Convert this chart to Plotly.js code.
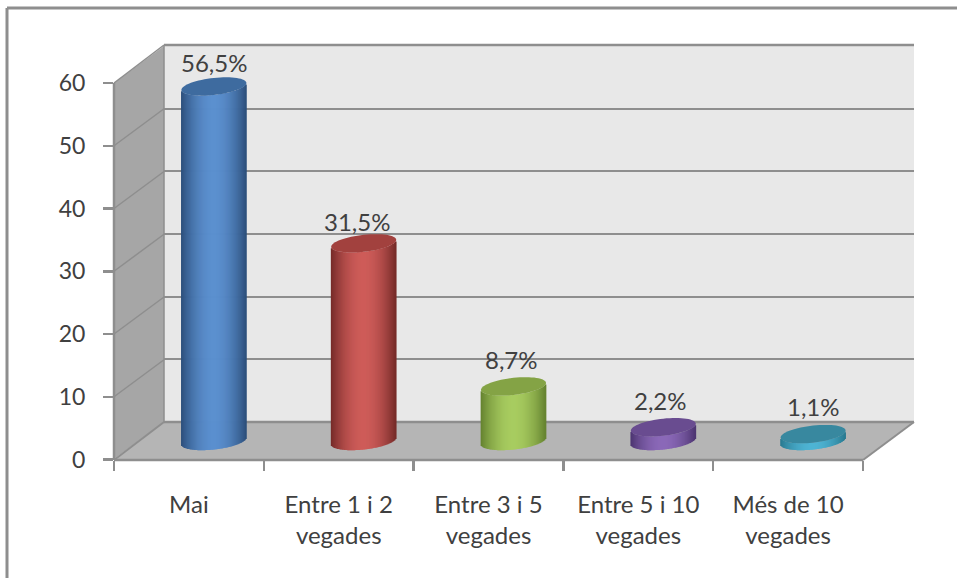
<!DOCTYPE html>
<html><head><meta charset="utf-8">
<script src="https://cdn.plot.ly/plotly-3.0.1.min.js"></script>
<style>html,body{margin:0;padding:0;background:#fff}</style></head>
<body><div id="c" style="width:957px;height:578px"></div>
<script>
const categories = ["Mai","Entre 1 i 2<br>vegades","Entre 3 i 5<br>vegades","Entre 5 i 10<br>vegades","Més de 10<br>vegades"];
const values = [56.5,31.5,8.7,2.2,1.1];
const valueLabels = ["56,5%","31,5%","8,7%","2,2%","1,1%"];
const edgeColors = ["#2a4d7a","#742a28","#64822f","#4c3470","#27788f"];
const midColors = ["#5a8fcf","#ce5c59","#a8cc60","#8b69b8","#4db4d4"];
const capColors = ["#3e6b9f","#a2413e","#84a345","#694c90","#38889f"];
const labelNudge = [[0,24],[-7,22],[-2,27],[-3,27],[0,28]];

const W=957,H=578;
const px=x=>x/W, py=y=>1-y/H;
const font="Lato, 'Open Sans', sans-serif", ink="#404040", edge="#8e8e8e";
const hex=c=>[1,3,5].map(i=>parseInt(c.substr(i,2),16));
const mix=(a,b,t)=>{const A=hex(a),B=hex(b);return "rgb("+A.map((v,i)=>Math.round(v+(B[i]-v)*t)).join(",")+")";};

// cylinder geometry, in units of the bar axes
const halfW=0.217, halfH=1.36, tilt=0.55, strips=65;
const bx=[],by=[],bb=[],bw=[],bc=[];
values.forEach((v,i)=>{
  for(let k=0;k<strips;k++){
    const u=-1+(k+0.5)*2/strips;
    bx.push(i+u*halfW); by.push(v);
    bb.push(tilt*u-halfH*Math.sqrt(1-u*u));
    bw.push(halfW*2/strips*1.7);
    bc.push(mix(edgeColors[i],midColors[i],1-Math.pow(Math.abs(u),1.9)));
  }
});
const ellipse=(i,v)=>{
  let d="";
  for(let k=0;k<=64;k++){
    const t=k/64*2*Math.PI, c=Math.cos(t), s=Math.sin(t);
    d+=(k?"L":"M")+(i+halfW*c).toFixed(4)+","+(v+tilt*c+halfH*s).toFixed(4);
  }
  return d+"Z";
};
const poly=(pts,fill)=>({type:"path",xref:"paper",yref:"paper",layer:"below",line:{width:0},fillcolor:fill,
  path:pts.map((p,i)=>(i?"L":"M")+px(p[0])+","+py(p[1])).join("")+"Z"});
const seg=(a,b,width,layer)=>({type:"line",xref:"paper",yref:"paper",layer:layer||"below",
  x0:px(a[0]),y0:py(a[1]),x1:px(b[0]),y1:py(b[1]),line:{color:edge,width:width||2}});

const shapes=[
  poly([[164,46],[914,46],[914,422],[164,422]],"#e8e8e8"),
  poly([[114,83],[164,46],[164,422],[114,459]],"#a6a6a6"),
  poly([[114,460],[164,422],[914,422],[863,460]],"#b5b5b5"),
  seg([7,8],[957,8],3), seg([7,8],[7,578],3),
  seg([164,45],[914,45],2.5), seg([164,45],[164,422],1.5),
  seg([164,422],[914,422],2.5), seg([914,422],[863,460],2),
  seg([114,460],[164,422],2), seg([114,83],[164,45],1.5),
  seg([114,83],[114,460],2.5), seg([114,460],[863,460],2.5)
];
[10,20,30,40,50].forEach(t=>{const y=459.5-t*6.275;shapes.push(seg([114,y],[164,y-37],1.5));});
values.forEach((v,i)=>shapes.push({type:"path",xref:"x3",yref:"y3",path:ellipse(i,v),fillcolor:capColors[i],line:{width:0}}));

const annotations=values.map((v,i)=>({xref:"x3",yref:"y3",x:i,y:v,text:valueLabels[i],showarrow:false,
  xshift:labelNudge[i][0],yshift:labelNudge[i][1],font:{family:font,size:24,color:ink}}));

const data=[
  {type:"scatter",mode:"none",x:[0,1],y:[0,60],xaxis:"x",yaxis:"y",hoverinfo:"skip",showlegend:false},
  {type:"scatter",mode:"none",x:categories,y:values.map(()=>null),xaxis:"x2",yaxis:"y2",hoverinfo:"skip",showlegend:false},
  {type:"bar",x:bx,y:by,base:bb,width:bw,marker:{color:bc,line:{width:0}},xaxis:"x3",yaxis:"y3",hoverinfo:"skip",showlegend:false,cliponaxis:false}
];
const layout={
  width:W,height:H,margin:{l:0,r:0,t:0,b:0},paper_bgcolor:"#fff",plot_bgcolor:"rgba(0,0,0,0)",
  showlegend:false,barmode:"overlay",shapes,annotations,
  xaxis:{domain:[px(164),px(914)],range:[0,1],anchor:"y",showgrid:false,zeroline:false,showticklabels:false,ticks:"",showline:false},
  yaxis:{domain:[py(422),py(46)],range:[0,60],anchor:"x",dtick:10,showgrid:true,gridcolor:edge,gridwidth:2,zeroline:false,showticklabels:false,ticks:"",showline:false},
  xaxis2:{domain:[px(114),px(863)],type:"category",categoryorder:"array",categoryarray:categories,anchor:"y2",tickson:"boundaries",
    range:[-0.5,4.5],ticks:"outside",ticklen:10,tickwidth:2.5,tickcolor:edge,showgrid:false,zeroline:false,showline:false,
    tickangle:0,ticklabelstandoff:28,tickfont:{family:font,size:24,color:ink}},
  yaxis2:{domain:[py(459.5),py(83)],range:[0,60],anchor:"x2",dtick:10,showgrid:false,zeroline:false,showline:false,
    ticks:"outside",ticklen:10,tickwidth:2.5,tickcolor:edge,ticklabelstandoff:13,tickfont:{family:font,size:23,color:ink}},
  xaxis3:{domain:[px(139),px(888)],range:[-0.5,4.5],anchor:"y3",visible:false,fixedrange:true},
  yaxis3:{domain:[py(441+5*6.275),py(441-60*6.275)],range:[-5,60],anchor:"x3",visible:false,fixedrange:true}
};
Plotly.newPlot("c",data,layout,{displayModeBar:false,staticPlot:true});
</script></body></html>
